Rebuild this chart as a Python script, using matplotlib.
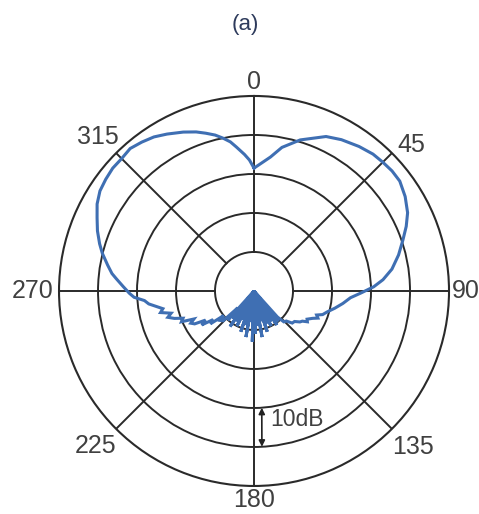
import numpy as np
import matplotlib
matplotlib.use("Agg")
import matplotlib.pyplot as plt

plt.rcParams['font.family'] = ['Liberation Sans', 'DejaVu Sans']

# Radiation pattern, angle in degrees (clockwise from 0 at top) and level in dB
angle_deg = [0, 3, 7, 11, 17, 25, 30, 36, 41, 45, 49, 53, 58, 63, 67, 71, 76, 81, 85, 88,
             91, 94, 98, 102, 106, 109, 111, 113, 115, 118, 120, 122, 124, 127, 130, 133,
             136, 138, 140, 142, 144, 146, 148, 150, 152, 154, 156, 158, 160, 162, 164,
             166, 168, 170, 172, 174, 176, 178, 180, 182, 184, 186, 188, 190, 192, 194,
             196, 198, 200, 202, 204, 206, 208, 210, 212, 214, 216, 218, 220, 222, 224, 226,
             229, 231, 233, 235, 237, 239, 241, 243, 245, 247, 249, 251, 253, 255, 257,
             259, 261, 263, 265, 267, 269, 272, 275, 277, 280, 284, 287, 291, 295, 299,
             303, 307, 311, 315, 319, 323, 327, 331, 336, 340, 343, 346, 348.5, 351, 353,
             356, 358, 360]
level_db = [-18.5, -17.3, -15.4, -12.5, -9.5, -6.3, -5.2, -4.2, -3.5, -3.3, -3.1, -3.2,
            -4.3, -5.8, -7.6, -9.6, -11.8, -14.2, -16.8, -19.3,
            -22.5, -25.2, -27.0, -28.8, -30.5, -31.4, -32.8, -32.2, -33.4, -34.6, -34.2,
            -35.4, -35.8, -37.0, -37.2, -38.7,
            -39, -41, -50, -40, -45, -39.5, -48, -41, -50, -40, -46, -41, -50, -39, -47,
            -42, -50, -38, -46, -41, -50, -39, -48, -37, -50, -42, -47, -38, -50, -41,
            -46, -39, -50, -42, -47, -40, -50, -41, -45, -39, -48, -41, -50, -40, -44, -39,
            -38.5, -40.0, -36.0, -37.2, -34.0, -35.5, -32.6, -31.8, -33.0, -29.8, -30.5,
            -28.4, -26.9, -28.0, -25.4,
            -26.2, -24.6, -22.8, -21.8, -19.2, -18.0, -16.4, -14.6, -13.3, -11.9, -9.9,
            -8.6, -7.0, -5.6, -4.0,
            -2.9, -2.4, -2.0, -2.0, -1.6, -2.2, -2.9, -4.0, -5.4, -6.6, -7.7, -8.8, -10.0,
            -11.3, -12.8, -14.9, -16.4, -18.5]

ring_db = [-40, -30, -20, -10]
spoke_deg = [0, 45, 90, 135, 180, 225, 270, 315]
spoke_labels = ['0', '45', '90', '135', '180', '225', '270', '315']

r_min, r_max = -50, 0
grid_col = '#2a2a2a'
text_col = '#404040'

fig = plt.figure(figsize=(4.79, 5.14), dpi=100)
ax = fig.add_axes([0.1232, 0.0545, 0.8142, 0.7588], projection='polar')
ax.set_theta_zero_location('N')
ax.set_theta_direction(-1)
ax.set_ylim(r_min, r_max)

ax.set_yticks(ring_db)
ax.set_yticklabels([])
ax.set_xticks([])
ax.xaxis.grid(False)
ax.yaxis.grid(True, color=grid_col, lw=1.4)
ax.spines['polar'].set_color(grid_col)
ax.spines['polar'].set_linewidth(1.5)

# spokes run from the innermost ring outwards
for a in spoke_deg:
    ax.plot([np.deg2rad(a)] * 2, [ring_db[0], r_max], color=grid_col, lw=1.4, zorder=2)

# angle labels just outside the outer ring: (angle, radius, horizontal alignment)
label_pos = [(0, 3.6, 'center'), (47, 5.0, 'center'), (90, 0.8, 'left'),
             (134.5, 7.0, 'center'), (180, 3.6, 'center'), (225.5, 6.8, 'center'),
             (270, 6.8, 'center'), (314.5, 6.2, 'center')]
for lab, (a, rr, ha) in zip(spoke_labels, label_pos):
    ax.text(np.deg2rad(a), rr, lab, ha=ha, va='center', fontsize=18,
            color=text_col, clip_on=False)

theta = np.deg2rad(angle_deg)
r = np.clip(level_db, r_min, r_max)
ax.plot(theta, r, color='#3f6fb3', lw=2.2, zorder=3, solid_joinstyle='miter')

# 10 dB scale arrow
ax.annotate('', xy=(np.deg2rad(177.1), -10), xytext=(np.deg2rad(176.2), -20),
            arrowprops=dict(arrowstyle='<|-|>', color='#222222', lw=1.2,
                            mutation_scale=9, shrinkA=0, shrinkB=0))
ax.text(np.deg2rad(172.9), -16.9, '10dB', ha='left', va='center', fontsize=16.5,
        color=text_col)

fig.text(0.512, 1 - 30 / 514, '(a)', ha='center', va='baseline', fontsize=16,
         color='#2e3b5c')

fig.savefig('out.png', dpi=100)
